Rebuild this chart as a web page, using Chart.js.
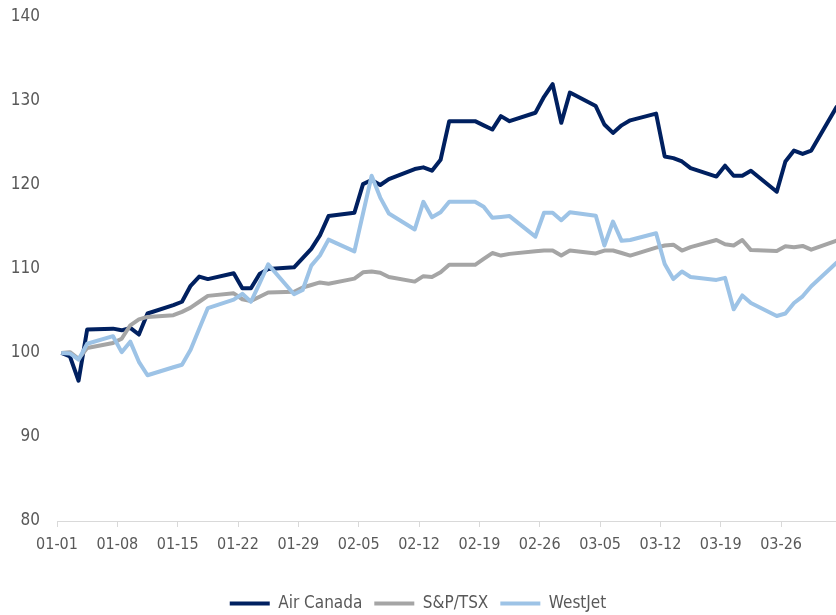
<!DOCTYPE html>
<html>
<head>
<meta charset="utf-8">
<script src="https://cdn.jsdelivr.net/npm/chart.js@4"></script>
<style>
  html, body { margin: 0; padding: 0; background: #ffffff; }
  #wrap { width: 836px; height: 615px; position: relative; }
</style>
</head>
<body>
<div id="wrap"><canvas id="c"></canvas></div>
<script>
const tradingDates = [
  '01-01','01-02','01-03','01-04','01-07','01-08','01-09','01-10','01-11',
  '01-14','01-15','01-16','01-17','01-18','01-21','01-22','01-23','01-24','01-25',
  '01-28','01-29','01-30','01-31','02-01','02-04','02-05','02-06','02-07','02-08',
  '02-11','02-12','02-13','02-14','02-15','02-18','02-19','02-20','02-21','02-22',
  '02-25','02-26','02-27','02-28','03-01','03-04','03-05','03-06','03-07','03-08',
  '03-11','03-12','03-13','03-14','03-15','03-18','03-19','03-20','03-21','03-22',
  '03-25','03-26','03-27','03-28','03-29','04-01'
];
const airCanada = [
  100, 99.6, 96.7, 102.8, 102.9, 102.7, 103.0, 102.2, 104.7,
  105.7, 106.1, 108.0, 109.1, 108.8, 109.5, 107.7, 107.7, 109.4, 110.0,
  110.2, 111.3, 112.4, 114.0, 116.3, 116.7, 120.1, 120.6, 120.0, 120.7,
  121.9, 122.1, 121.7, 123.0, 127.6, 127.6, 127.1, 126.6, 128.2, 127.6,
  128.6, 130.5, 132.0, 127.4, 131.0, 129.4, 127.2, 126.2, 127.1, 127.7,
  128.5, 123.4, 123.2, 122.8, 122.0, 121.0, 122.3, 121.1, 121.1, 121.7,
  119.2, 122.8, 124.1, 123.7, 124.1, 129.4
];
const spTsx = [
  100, 100.1, 99.3, 100.6, 101.2, 101.7, 103.3, 104.0, 104.3,
  104.5, 104.9, 105.4, 106.1, 106.8, 107.1, 106.4, 106.2, 106.7, 107.2,
  107.3, 107.8, 108.1, 108.4, 108.25, 108.85, 109.6, 109.7, 109.55, 109.05,
  108.5, 109.15, 109.05, 109.6, 110.5, 110.5, 111.2, 111.9, 111.6, 111.8,
  112.1, 112.2, 112.2, 111.6, 112.2, 111.85, 112.2, 112.2, 111.9, 111.6,
  112.55, 112.8, 112.9, 112.2, 112.6, 113.45, 112.95, 112.8, 113.45, 112.25,
  112.15, 112.7, 112.6, 112.75, 112.3, 113.4
];
const westJet = [
  100, 99.95, 99.2, 101.1, 102.0, 100.1, 101.35, 98.95, 97.35,
  98.3, 98.6, 100.4, 102.9, 105.35, 106.35, 107.05, 106.1, 108.3, 110.55,
  107.0, 107.5, 110.4, 111.6, 113.5, 112.1, 116.6, 121.1, 118.5, 116.6,
  114.7, 118.0, 116.15, 116.75, 118.0, 118.0, 117.4, 116.1, 116.2, 116.3,
  113.85, 116.7, 116.7, 115.8, 116.75, 116.35, 112.8, 115.65, 113.35, 113.45,
  114.25, 110.6, 108.8, 109.7, 109.05, 108.7, 108.95, 105.2, 106.85, 105.95,
  104.4, 104.7, 105.95, 106.75, 107.95, 110.8
];
const tickLabels = ['01-01','01-08','01-15','01-22','01-29','02-05','02-12','02-19','02-26','03-05','03-12','03-19','03-26'];
const seriesNames = ['Air Canada', 'S&P/TSX', 'WestJet'];
const seriesColors = ['#002060', '#A5A5A5', '#9DC3E6'];
const yTicks = [80, 90, 100, 110, 120, 130, 140];

function dayOf(md) {
  const [m, d] = md.split('-').map(Number);
  return (Date.UTC(2019, m - 1, d) - Date.UTC(2019, 0, 1)) / 86400000;
}
function toPoints(values) {
  return tradingDates.map((md, i) => ({ x: dayOf(md) + 0.5, y: values[i] }));
}

Chart.defaults.font.family = "'Liberation Sans Narrow', 'DejaVu Sans Condensed', sans-serif";
Chart.defaults.color = '#595959';

const allSeries = [airCanada, spTsx, westJet];
const datasets = allSeries.map((vals, i) => ({
  label: seriesNames[i],
  data: toPoints(vals),
  borderColor: seriesColors[i],
  backgroundColor: seriesColors[i],
  borderWidth: 4,
  pointRadius: 0,
  tension: 0,
  borderJoinStyle: 'round',
  order: 3 - i
}));

new Chart(document.getElementById('c'), {
  type: 'line',
  data: { datasets },
  options: {
    responsive: true,
    maintainAspectRatio: false,
    animation: false,
    devicePixelRatio: 1,
    layout: { padding: { top: 17, right: 0, bottom: -7, left: 0 } },
    plugins: {
      tooltip: { enabled: false },
      legend: {
        position: 'bottom',
        labels: {
          boxWidth: 40,
          boxHeight: 4,
          padding: 12,
          color: '#595959',
          font: { size: 17 },
          sort: (a, b) => a.datasetIndex - b.datasetIndex,
          generateLabels: (chart) => {
            const items = Chart.defaults.plugins.legend.labels.generateLabels(chart);
            items.forEach(it => { it.lineWidth = 0; it.fillStyle = seriesColors[it.datasetIndex]; });
            return items;
          }
        }
      }
    },
    scales: {
      x: {
        type: 'linear',
        min: 0,
        max: (836 - 57) / 8.62,
        afterBuildTicks: (s) => { s.ticks = tickLabels.map(l => ({ value: dayOf(l) })); },
        afterFit: (s) => { s.height = 62; },
        ticks: {
          autoSkip: false,
          maxRotation: 0,
          padding: 8,
          color: '#595959',
          font: { size: 16 },
          callback: (v, i) => tickLabels[i]
        },
        grid: { display: true, drawOnChartArea: false, drawTicks: true, tickLength: 6, color: '#D9D9D9' },
        border: { display: true, color: '#D9D9D9', width: 1 }
      },
      y: {
        min: 80,
        max: 140,
        afterBuildTicks: (s) => { s.ticks = yTicks.map(v => ({ value: v })); },
        afterFit: (s) => { s.width = 57; },
        ticks: { padding: 0, color: '#595959', font: { size: 17 } },
        grid: { display: false, drawTicks: true, tickLength: 17 },
        border: { display: false }
      }
    }
  }
});
</script>
</body>
</html>
